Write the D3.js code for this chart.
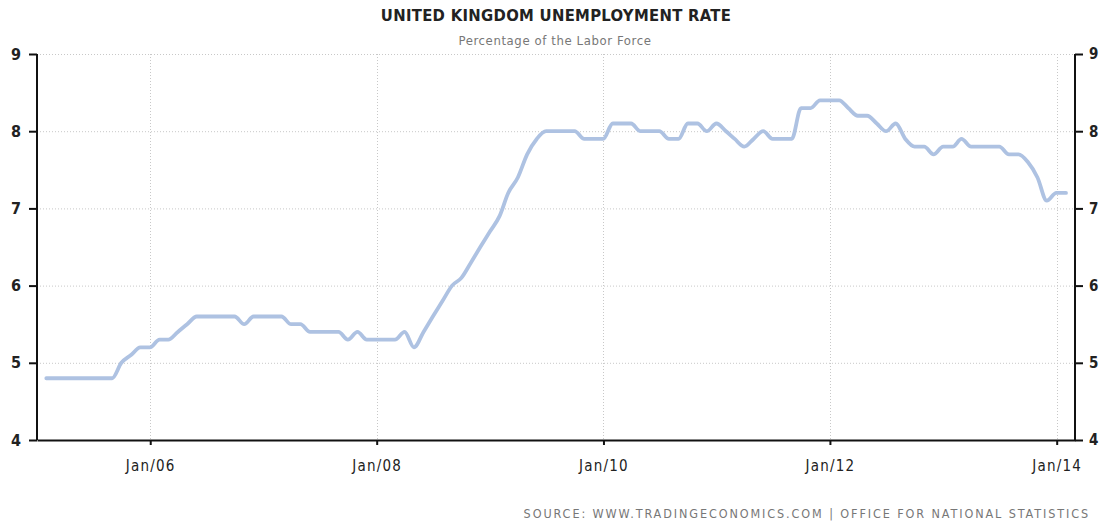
<!DOCTYPE html>
<html>
<head>
<meta charset="utf-8">
<script src="https://cdn.jsdelivr.net/npm/d3@7"></script>
<style>
  body { margin: 0; background: #fff; }
  svg { display: block; }
  .lbl { font-family: "DejaVu Sans Condensed", "DejaVu Sans", sans-serif; }
</style>
</head>
<body>
<svg id="chart" width="1100" height="521"></svg>
<script>
// monthly unemployment rate, Jan 2005 .. Jan 2014
const startMonth = new Date(2005, 0, 1)
const rate2005 = [4.8, 4.8, 4.8, 4.8, 4.8, 4.8, 4.8, 4.8, 5.0, 5.1, 5.2, 5.2]
const rate2006 = [5.3, 5.3, 5.4, 5.5, 5.6, 5.6, 5.6, 5.6, 5.6, 5.5, 5.6, 5.6]
const rate2007 = [5.6, 5.6, 5.5, 5.5, 5.4, 5.4, 5.4, 5.4, 5.3, 5.4, 5.3, 5.3]
const rate2008 = [5.3, 5.3, 5.4, 5.2, 5.4, 5.6, 5.8, 6.0, 6.1, 6.3, 6.5, 6.7]
const rate2009 = [6.9, 7.2, 7.4, 7.7, 7.9, 8.0, 8.0, 8.0, 8.0, 7.9, 7.9, 7.9]
const rate2010 = [8.1, 8.1, 8.1, 8.0, 8.0, 8.0, 7.9, 7.9, 8.1, 8.1, 8.0, 8.1]
const rate2011 = [8.0, 7.9, 7.8, 7.9, 8.0, 7.9, 7.9, 7.9, 8.3, 8.3, 8.4, 8.4]
const rate2012 = [8.4, 8.3, 8.2, 8.2, 8.1, 8.0, 8.1, 7.9, 7.8, 7.8, 7.7, 7.8]
const rate2013 = [7.8, 7.9, 7.8, 7.8, 7.8, 7.8, 7.7, 7.7, 7.6, 7.4, 7.1, 7.2]
const rate2014 = [7.2]

const yTicks = [4, 5, 6, 7, 8, 9]
const xTicks = [new Date(2006, 0, 1), new Date(2008, 0, 1), new Date(2010, 0, 1), new Date(2012, 0, 1), new Date(2014, 0, 1)]

const values = [].concat(rate2005, rate2006, rate2007, rate2008, rate2009, rate2010, rate2011, rate2012, rate2013, rate2014)
// points are dated at month end
const data = values.map((v, i) => ({ date: new Date(startMonth.getFullYear(), startMonth.getMonth() + i + 1, 0), value: v }))

const margin = { left: 37, right: 25, top: 54, bottom: 81 }
const W = 1100, H = 521

const x = d3.scaleTime()
  .domain([new Date(2005, 0, 1), new Date(2014, 2, 1)])
  .range([margin.left, W - margin.right])

const y = d3.scaleLinear()
  .domain([4, 9])
  .range([H - margin.bottom, margin.top])

const svg = d3.select('#chart')

// titles
svg.append('text').attr('class', 'lbl')
  .attr('x', 556).attr('y', 21).attr('text-anchor', 'middle')
  .attr('font-size', 16.5).attr('font-weight', 'bold').attr('fill', '#222')
  .attr('letter-spacing', 0.3)
  .text('UNITED KINGDOM UNEMPLOYMENT RATE')

svg.append('text').attr('class', 'lbl')
  .attr('x', 555).attr('y', 45).attr('text-anchor', 'middle')
  .attr('font-size', 13).attr('fill', '#777')
  .attr('letter-spacing', 0.6)
  .text('Percentage of the Labor Force')

// grid
const grid = svg.append('g')
grid.selectAll('.hg').data(yTicks.filter(d => d > 4)).enter().append('line')
  .attr('x1', x.range()[0]).attr('x2', x.range()[1])
  .attr('y1', d => y(d) + 0.5).attr('y2', d => y(d) + 0.5)
  .attr('stroke', '#c8c8c8').attr('stroke-dasharray', '1,2')
grid.selectAll('.vg').data(xTicks).enter().append('line')
  .attr('x1', d => Math.round(x(d)) + 0.5).attr('x2', d => Math.round(x(d)) + 0.5)
  .attr('y1', y(9)).attr('y2', y(4))
  .attr('stroke', '#c8c8c8').attr('stroke-dasharray', '1,2')

// line
const line = d3.line()
  .x(d => x(d.date))
  .y(d => y(d.value))
  .curve(d3.curveMonotoneX)

svg.append('path').datum(data)
  .attr('d', line)
  .attr('fill', 'none')
  .attr('stroke', '#aec2e2')
  .attr('stroke-width', 3.8)
  .attr('stroke-linejoin', 'round')
  .attr('stroke-linecap', 'round')

// axes
const fmt = d3.timeFormat('Jan/%y')

const leftAxis = svg.append('g')
  .attr('transform', `translate(${margin.left},0)`)
  .call(d3.axisLeft(y).tickValues(yTicks).tickFormat(d3.format('d')).tickSize(8).tickPadding(8))
const rightAxis = svg.append('g')
  .attr('transform', `translate(${W - margin.right},0)`)
  .call(d3.axisRight(y).tickValues(yTicks).tickFormat(d3.format('d')).tickSize(8).tickPadding(6))
const bottomAxis = svg.append('g')
  .attr('transform', `translate(0,${H - margin.bottom})`)
  .call(d3.axisBottom(x).tickValues(xTicks).tickFormat(fmt).tickSize(5).tickSizeOuter(0).tickPadding(15))

;[leftAxis, rightAxis, bottomAxis].forEach(g => {
  g.select('.domain').attr('stroke', '#111').attr('stroke-width', 2)
  g.selectAll('.tick line').attr('stroke', '#111').attr('stroke-width', 2)
  g.selectAll('.tick text')
    .attr('class', 'lbl')
    .attr('fill', '#222')
})
leftAxis.selectAll('.tick text').attr('font-weight', 'bold').attr('font-size', 16)
rightAxis.selectAll('.tick text').attr('font-weight', 'bold').attr('font-size', 15)
bottomAxis.selectAll('.tick text').attr('font-size', 15).attr('letter-spacing', 1.2)
leftAxis.select('.domain').attr('d', `M0,${y(9)}V${y(4)}`)
rightAxis.select('.domain').attr('d', `M0,${y(9)}V${y(4)}`)

// source
svg.append('text').attr('class', 'lbl')
  .attr('x', 1090).attr('y', 518).attr('text-anchor', 'end')
  .attr('font-size', 12.5).attr('fill', '#777')
  .attr('letter-spacing', 1.9)
  .text('SOURCE:  WWW.TRADINGECONOMICS.COM  |  OFFICE  FOR  NATIONAL  STATISTICS')
</script>
</body>
</html>
